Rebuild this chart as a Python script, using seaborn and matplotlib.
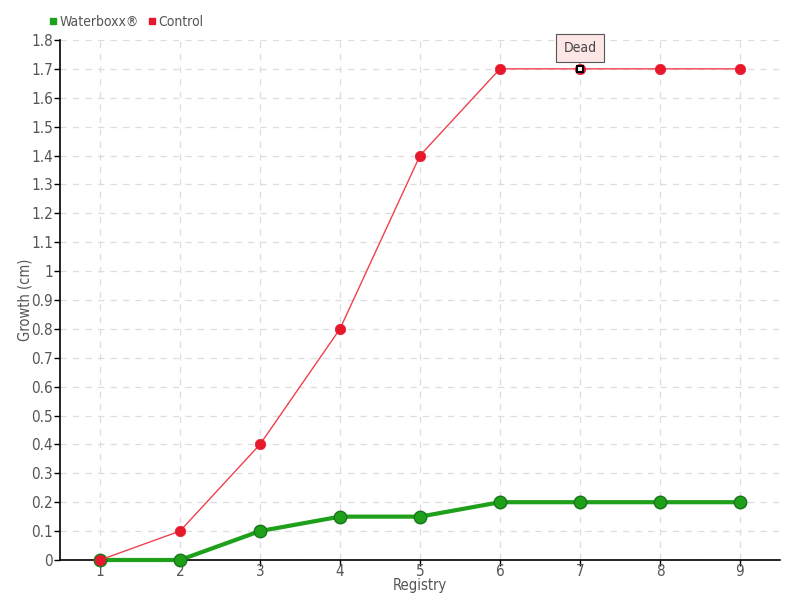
import pandas as pd
import matplotlib.pyplot as plt
from matplotlib.lines import Line2D
import seaborn as sns

registry = [1, 2, 3, 4, 5, 6, 7, 8, 9]
waterboxx = [0, 0, 0.1, 0.15, 0.15, 0.2, 0.2, 0.2, 0.2]
control = [0, 0.1, 0.4, 0.8, 1.4, 1.7, 1.7, 1.7, 1.7]
y_ticks = [0, 0.1, 0.2, 0.3, 0.4, 0.5, 0.6, 0.7, 0.8, 0.9, 1.0, 1.1, 1.2, 1.3, 1.4, 1.5, 1.6, 1.7, 1.8]
y_labels = ['0', '0.1', '0.2', '0.3', '0.4', '0.5', '0.6', '0.7', '0.8', '0.9', '1',
            '1.1', '1.2', '1.3', '1.4', '1.5', '1.6', '1.7', '1.8']

df = pd.DataFrame({'Registry': registry, 'Waterboxx': waterboxx, 'Control': control})

sns.set_style('white')
plt.rcParams['font.family'] = ['DejaVu Sans']
plt.rcParams['font.stretch'] = 'condensed'

fig = plt.figure(figsize=(8, 6), dpi=100)
ax = fig.add_axes([0.075, 0.0667, 0.9, 0.8667])

green = '#1fa01a'
red = '#e8182c'

sns.lineplot(x='Registry', y='Waterboxx', data=df, ax=ax, color=green, linewidth=3,
             marker='o', markersize=9, markerfacecolor=green, markeredgecolor='#17761a',
             markeredgewidth=1, zorder=3, clip_on=False)
sns.lineplot(x='Registry', y='Control', data=df, ax=ax, color='#f0404f', linewidth=1,
             marker='o', markersize=7.5, markerfacecolor=red, markeredgecolor=red,
             markeredgewidth=0.5, zorder=4, clip_on=False)

# highlighted point
ax.plot(7, 1.7, marker='s', markersize=5, markerfacecolor='white', markeredgecolor='black',
        markeredgewidth=1.5, zorder=6)
ax.annotate('Dead', xy=(7, 1.7), xytext=(0, 15), textcoords='offset points',
            ha='center', va='center', fontsize=10, color='#444444',
            bbox=dict(boxstyle='square,pad=0.5', fc='#fde6e6', ec='#555555', lw=0.8),
            arrowprops=dict(arrowstyle='-', color='#555555', lw=0.8, shrinkA=0, shrinkB=4),
            zorder=7)

ax.set_xlim(0.5, 9.5)
ax.set_ylim(0, 1.8)
ax.set_xticks(registry)
ax.set_xticklabels([str(r) for r in registry])
ax.set_yticks(y_ticks)
ax.set_yticklabels(y_labels)
ax.tick_params(axis='both', labelsize=11, labelcolor='#555555', length=4, width=1,
               color='black', direction='out', bottom=True, left=True, pad=1)
ax.tick_params(axis='x', pad=-1)
ax.grid(True, linestyle=(0, (5, 5)), color='#dddddd', linewidth=0.9)
ax.set_axisbelow(True)

for s in ['top', 'right']:
    ax.spines[s].set_visible(False)
for s in ['left', 'bottom']:
    ax.spines[s].set_color('black')
    ax.spines[s].set_linewidth(1.2)

ax.set_xlabel('Registry', fontsize=10.5, color='#555555', labelpad=-1)
ax.set_ylabel('Growth (cm)', fontsize=10.5, color='#555555', labelpad=-1)

handles = [Line2D([], [], linestyle='none', marker='s', markersize=5, color=green),
           Line2D([], [], linestyle='none', marker='s', markersize=5, color=red)]
leg = fig.legend(handles, ['Waterboxx®', 'Control'], loc='center left',
                 bbox_to_anchor=(0.052, 0.963), ncol=2, frameon=False, fontsize=10,
                 handlelength=0.6, handletextpad=0.2, columnspacing=0.6, borderpad=0)
for t in leg.get_texts():
    t.set_color('#555555')

fig.savefig('out.png', dpi=100)
